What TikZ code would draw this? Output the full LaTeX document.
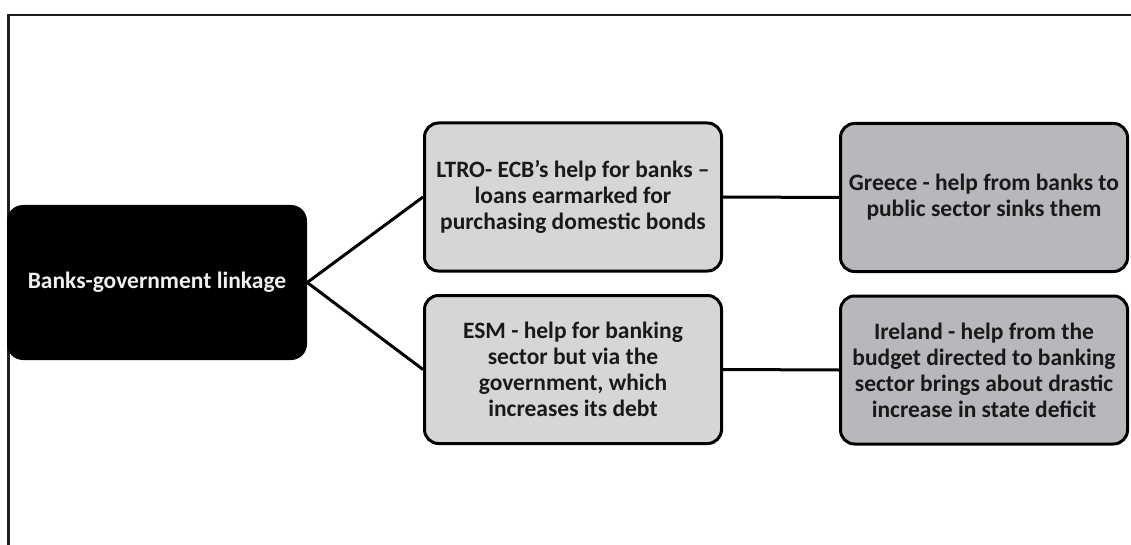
\documentclass[tikz,border=0pt]{standalone}
\usepackage{fontspec}
\setmainfont{Carlito}
\definecolor{lightbox}{RGB}{213,214,216}
\definecolor{darkbox}{RGB}{182,184,187}
\definecolor{framegray}{RGB}{30,30,30}
\begin{document}
\begin{tikzpicture}[x=1pt,y=-1pt,
  every node/.style={font=\fontsize{23.5}{26}\selectfont\bfseries, align=center, inner sep=0pt},
  rootbox/.style={fill=black, text=white!94!black, rounded corners=16pt, minimum width=300pt, minimum height=155pt},
  midbox/.style={draw=black, line width=3pt, fill=lightbox, text=black!90, rounded corners=14pt, minimum width=297pt, minimum height=148pt},
  endbox/.style={draw=black, line width=3pt, fill=darkbox, text=black!90, rounded corners=14pt, minimum width=287pt, minimum height=148pt},
  link/.style={draw=black, line width=3pt}]
\useasboundingbox (0,0) rectangle (1131,545);
\draw[framegray, line width=2.5pt] (8.5,545) -- (8.5,15) -- (1131,15);
\node[rootbox] (root) at (157,282.5) {Banks-government linkage};
\node[midbox] (ltro) at (573,197) {LTRO- ECB’s help for banks –\\loans earmarked for\\purchasing domestic bonds};
\node[midbox] (esm) at (573,369.5) {ESM - help for banking\\sector but via the\\government, which\\increases its debt};
\node[endbox] (greece) at (984,197.5) {Greece - help from banks to\\public sector sinks them};
\node[endbox] (ireland) at (984,370) {Ireland - help from the\\budget directed to banking\\sector brings about drastic\\increase in state deficit};
\draw[link] (root.east) -- (ltro.west);
\draw[link] (root.east) -- (esm.west);
\draw[link] (ltro.east) -- (greece.west);
\draw[link] (esm.east) -- (ireland.west);
\end{tikzpicture}
\end{document}
